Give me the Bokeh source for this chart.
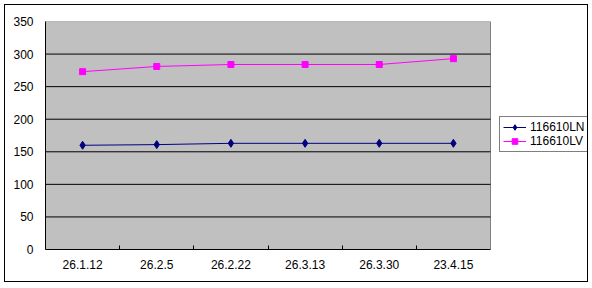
from bokeh.plotting import figure
from bokeh.models import FixedTicker, Legend, LegendItem, Range1d
from bokeh.embed import file_html
from bokeh.resources import INLINE

categories = ["26.1.12", "26.2.5", "26.2.22", "26.3.13", "26.3.30", "23.4.15"]
ln_values = [160, 161, 163, 163, 163, 163]
lv_values = [273, 281, 284, 284, 284, 293]
y_ticks = [0, 50, 100, 150, 200, 250, 300, 350]

FONT = "Liberation Sans Narrow, Liberation Sans, sans-serif"
n = len(categories)
xs = [i + 0.5 for i in range(n)]
y_max = y_ticks[-1]

# layout (pixels, figure-local)
W, H = 584, 278
left_b, top_b, bottom_b, right_b = 40, 16, 34, 2
plot_px = 445  # width of grey plot area
frame_px = W - left_b - right_b
x_end = n * frame_px / plot_px

p = figure(width=W, height=H, output_backend="svg", toolbar_location=None,
           x_range=Range1d(0, x_end), y_range=Range1d(0, y_max),
           min_border_left=left_b, min_border_right=right_b,
           min_border_top=top_b, min_border_bottom=bottom_b,
           margin=(4, 4, 4, 4),
           styles={"border": "1px solid black"})
p.background_fill_color = "white"
p.border_fill_color = "white"
p.outline_line_color = None
p.xgrid.grid_line_color = None
p.ygrid.grid_line_color = None

# grey plot area
p.quad(left=0, right=n, bottom=0, top=y_max, fill_color="#C0C0C0",
       line_color="#808080", line_width=1)
# horizontal gridlines limited to plot area
inner = y_ticks[1:-1]
p.segment(x0=[0] * len(inner), x1=[n] * len(inner), y0=inner, y1=inner,
          line_color="black", line_width=1)

p.yaxis.ticker = FixedTicker(ticks=y_ticks)
p.yaxis.major_tick_out = 0
p.yaxis.major_tick_in = 0
p.yaxis.minor_tick_out = 0
p.yaxis.minor_tick_in = 0
p.yaxis.axis_line_color = "black"
p.yaxis.major_label_text_font = FONT
p.yaxis.major_label_text_font_size = "12px"
p.yaxis.major_label_text_color = "black"
p.yaxis.major_label_standoff = 12

p.xaxis.ticker = FixedTicker(ticks=xs, minor_ticks=list(range(1, n)))
p.xaxis.bounds = (0, n)
p.xaxis.major_label_overrides = {x: c for x, c in zip(xs, categories)}
p.xaxis.major_tick_in = 0
p.xaxis.major_tick_out = 0
p.xaxis.minor_tick_in = 4
p.xaxis.minor_tick_out = 0
p.xaxis.axis_line_color = "black"
p.xaxis.major_label_text_font = FONT
p.xaxis.major_label_text_font_size = "12px"
p.xaxis.major_label_text_color = "black"
p.xaxis.major_label_standoff = 10

l1 = p.line(xs, ln_values, line_color="#000080", line_width=1)
m1 = p.scatter(xs, ln_values, marker="diamond", size=8, fill_color="#000080", line_color="#000080")
l2 = p.line(xs, lv_values, line_color="#FF00FF", line_width=1)
m2 = p.scatter(xs, lv_values, marker="square", size=6, fill_color="#FF00FF", line_color="#FF00FF")

legend = Legend(items=[LegendItem(label="116610LN", renderers=[l1, m1]),
                       LegendItem(label="116610LV", renderers=[l2, m2])],
                location=(454, 97))
legend.label_text_font = FONT
legend.label_text_font_size = "12px"
legend.label_text_color = "black"
legend.border_line_color = "black"
legend.border_line_width = 1
legend.background_fill_color = "white"
legend.background_fill_alpha = 1
legend.glyph_width = 23
legend.glyph_height = 14
legend.label_height = 14
legend.spacing = 0
legend.padding = 3
legend.margin = 0
legend.label_standoff = 4
p.add_layout(legend, "center")

open("out.html", "w").write(file_html(p, INLINE))
